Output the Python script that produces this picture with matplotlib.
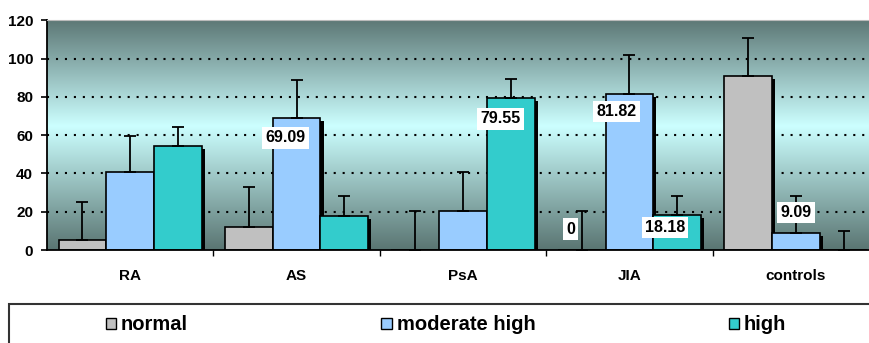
# import libraries
import numpy as np
import matplotlib.pyplot as plt
import matplotlib.patheffects as pe
from matplotlib.patches import Patch, Rectangle
from matplotlib.colors import LinearSegmentedColormap

plt.rcParams['font.family'] = ['Liberation Sans', 'DejaVu Sans']
plt.rcParams['font.weight'] = 'bold'

# data
categories = ['RA', 'AS', 'PsA', 'JIA', 'controls']
series_names = ['normal', 'moderate high', 'high']
normal = [5.2, 12.2, 0, 0, 90.91]
moderate = [40.9, 69.09, 20.45, 81.82, 9.09]
high = [54.5, 18.0, 79.55, 18.18, 0]
normal_sd = [19.8, 20.8, 20.2, 20.2, 19.7]
moderate_sd = [18.8, 19.7, 20.2, 20.2, 19.4]
high_sd = [9.9, 10.1, 10.0, 9.9, 10.1]
colors = ['#C0C0C0', '#99CCFF', '#33CCCC']

# labelled bars: (category, series, text, dx px, dy px from bar top)
labels = [(1, 1, '69.09', -11, -20), (2, 2, '79.55', -10, -21),
          (3, 0, '0', -11, 21), (3, 1, '81.82', -13, -18),
          (3, 2, '18.18', -12, -12), (4, 1, '9.09', 0, 20)]

fig = plt.figure(figsize=(8.69, 3.43), dpi=100)
ax = fig.add_axes([47/869, 1 - 250/343, 832/869, 229.5/343])

# background gradient (dark - light cyan - dark)
cmap = LinearSegmentedColormap.from_list('bg', [(0, '#5A7572'), (0.54, '#CCFFFF'), (1, '#5D7876')])
grad = np.linspace(0, 1, 256).reshape(-1, 1)
ax.imshow(grad, cmap=cmap, extent=[-0.5, 4.5, 0, 120], aspect='auto', origin='lower', zorder=0)

x = np.arange(len(categories))
w = 0.287
shadow = [pe.SimplePatchShadow(offset=(2.3, -2.3), shadow_rgbFace='black', alpha=1), pe.Normal()]
all_vals = [normal, moderate, high]
all_sd = [normal_sd, moderate_sd, high_sd]
for i, (vals, sd) in enumerate(zip(all_vals, all_sd)):
    pos = x + (i - 1) * w
    bars = ax.bar(pos, vals, width=w, color=colors[i], edgecolor='black', linewidth=1.2, zorder=2)
    for b in bars:
        b.set_path_effects(shadow)
    ax.errorbar(pos, vals, yerr=[np.zeros(len(vals)), sd], fmt='none', ecolor='black',
                elinewidth=1.3, capsize=4.5, capthick=1.3, zorder=3)

for c, s, txt, dx, dy in labels:
    ax.annotate(txt, (x[c] + (s - 1) * w, all_vals[s][c]), xytext=(dx, dy),
                textcoords='offset pixels', ha='center', va='center', fontsize=11.5,
                fontweight='bold', color='black', zorder=5,
                bbox=dict(boxstyle='square,pad=0.2', fc='white', ec='none'))

# axes styling
ax.set_xlim(-0.5, 4.5)
ax.set_ylim(0, 120)
ax.set_yticks(np.arange(0, 121, 20))
ax.set_xticks(x)
ax.set_xticklabels(categories)
ax.set_xticks(np.arange(0.5, 4.5, 1), minor=True)
ax.tick_params(axis='x', which='major', length=0, pad=14, labelsize=11)
ax.tick_params(axis='x', which='minor', length=4, width=1, direction='out')
ax.tick_params(axis='y', length=4, width=1.2, pad=6, labelsize=11)
for yv in range(20, 101, 20):
    ax.axhline(yv, color='black', linestyle=(0, (1, 3.3)), linewidth=1.5, zorder=1)
ax.spines['top'].set_color('#BBBBBB')
ax.spines['right'].set_visible(False)
ax.spines['left'].set_linewidth(1.3)
ax.spines['bottom'].set_linewidth(1.3)

# legend box below
fig.patches.append(Rectangle((9/869, -0.1), 1.0, 0.1 + 39/343, transform=fig.transFigure,
                             fill=False, edgecolor='#333333', linewidth=1.5))
handles = [Patch(facecolor=colors[i], edgecolor='black', linewidth=1) for i in range(3)]
fig.legend(handles, series_names, loc='center left', bbox_to_anchor=(106/869, 1 - 325/343),
           ncol=3, frameon=False, fontsize=14.5, handlelength=0.5, handleheight=0.5,
           handletextpad=0.25, columnspacing=9.6, borderpad=0, borderaxespad=0)

plt.savefig('out.png', dpi=100)
